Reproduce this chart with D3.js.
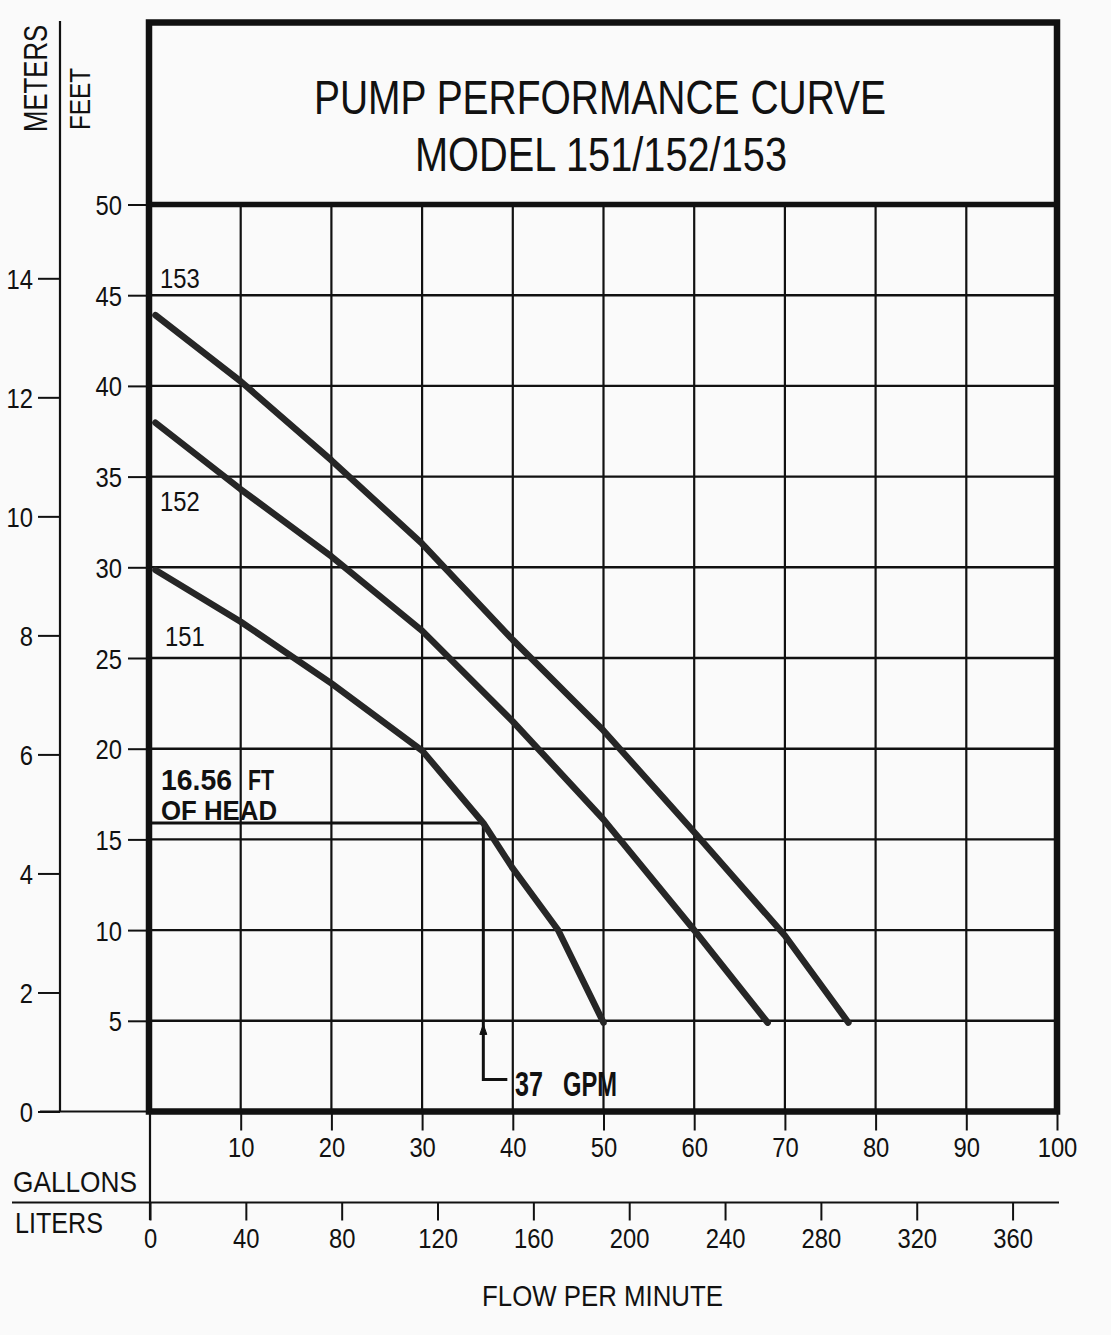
<!DOCTYPE html>
<html><head><meta charset="utf-8">
<script src="https://cdn.jsdelivr.net/npm/d3@7"></script>
<style>
html,body{margin:0;padding:0;background:#fafafa}
text{font-family:"Liberation Sans",Arial,sans-serif;fill:#111}
</style>
</head><body>
<svg id="c" width="1111" height="1335"></svg>
<script>
// ---------- data ----------
const titleLines = ["PUMP PERFORMANCE CURVE", "MODEL 151/152/153"];
const gallonTicks = [10, 20, 30, 40, 50, 60, 70, 80, 90, 100];
const literTicks = [0, 40, 80, 120, 160, 200, 240, 280, 320, 360];
const feetTicks = [5, 10, 15, 20, 25, 30, 35, 40, 45, 50];
const meterTicks = [0, 2, 4, 6, 8, 10, 12, 14];
const gridGallons = [10, 20, 30, 40, 50, 60, 70, 80, 90];
const gridFeet = [5, 10, 15, 20, 25, 30, 35, 40, 45];
const models = ["151", "152", "153"];
const gpm151 = [0.6, 10, 20, 30, 36.75, 40, 45, 50];
const ft151  = [29.85, 27.0, 23.6, 19.9, 15.9, 13.4, 10.0, 4.9];
const gpm152 = [0.6, 10, 20, 30, 40, 50, 60, 68.1];
const ft152  = [37.97, 34.3, 30.6, 26.5, 21.5, 16.1, 10.0, 4.9];
const gpm153 = [0.6, 10, 20, 30, 40, 50, 60, 70, 77];
const ft153  = [43.9, 40.25, 35.9, 31.3, 26.0, 21.0, 15.4, 9.7, 4.9];
const operatingGpm = 36.75;
const operatingHeadFt = 15.9;
const headLabel = ["16.56", "FT", "OF HEAD"];
const flowLabel = ["37", "GPM"];
const LITERS_PER_GALLON = 3.78541;
const FEET_PER_METER = 3.28084;

// ---------- scales ----------
const svg = d3.select("#c");
svg.append("rect").attr("width", 1111).attr("height", 1335).attr("fill", "#fafafa");
const x = d3.scaleLinear().domain([0, 100]).range([150, 1057]);
const xL = d3.scaleLinear().domain([0, 100 * LITERS_PER_GALLON]).range([150, 1057]);
const y = d3.scaleLinear().domain([0, 50]).range([1111.5, 204.5]);
const yM = d3.scaleLinear().domain([0, 50 / FEET_PER_METER]).range([1111.5, 204.5]);
const SX = 0.85;
const frameTop = 22.5;

// ---------- grid ----------
const grid = svg.append("g").attr("stroke", "#111");
grid.selectAll("line.v").data(gridGallons).join("line")
  .attr("x1", d => x(d)).attr("x2", d => x(d))
  .attr("y1", y(50)).attr("y2", y(0)).attr("stroke-width", 2.2);
grid.selectAll("line.h").data(gridFeet).join("line")
  .attr("x1", x(0)).attr("x2", x(100))
  .attr("y1", d => y(d)).attr("y2", d => y(d)).attr("stroke-width", 2.4);

// ---------- frame ----------
svg.append("rect").attr("x", x(0) - 1).attr("y", frameTop)
  .attr("width", x(100) - x(0) + 1).attr("height", y(0) - frameTop)
  .attr("fill", "none").attr("stroke", "#111").attr("stroke-width", 6.5);
svg.append("line").attr("x1", x(0)).attr("x2", x(100)).attr("y1", y(50)).attr("y2", y(50))
  .attr("stroke", "#111").attr("stroke-width", 5.5);

// ---------- title ----------
svg.append("text").attr("x", 314).attr("y", 114).attr("font-size", 49)
  .attr("textLength", 572).attr("lengthAdjust", "spacingAndGlyphs").text(titleLines[0]);
svg.append("text").attr("x", 415).attr("y", 170.5).attr("font-size", 49)
  .attr("textLength", 372).attr("lengthAdjust", "spacingAndGlyphs").text(titleLines[1]);

// ---------- axes ----------
function styleAxis(g, lw) {
  g.select(".domain").remove();
  g.selectAll(".tick line").attr("stroke", "#111").attr("stroke-width", lw);
  g.selectAll(".tick text").attr("font-size", 28).attr("fill", "#111")
    .attr("font-family", '"Liberation Sans",Arial,sans-serif');
}
// feet
const gF = svg.append("g").attr("transform", "translate(148,0)")
  .call(d3.axisLeft(y).tickValues(feetTicks).tickSize(20).tickFormat(d3.format("d")));
styleAxis(gF, 2);
gF.selectAll(".tick text").attr("x", -26 / SX).attr("dy", "0.36em").attr("transform", `scale(${SX},1)`);
// meters
svg.append("line").attr("x1", 60).attr("x2", 60).attr("y1", 21).attr("y2", y(0))
  .attr("stroke", "#111").attr("stroke-width", 2.2);
const gM = svg.append("g").attr("transform", "translate(60,0)")
  .call(d3.axisLeft(yM).tickValues(meterTicks).tickSize(22).tickFormat(d3.format("d")));
styleAxis(gM, 2);
gM.selectAll(".tick text").attr("x", -27 / SX).attr("dy", "0.36em").attr("transform", `scale(${SX},1)`);
svg.append("line").attr("x1", 40).attr("x2", x(0)).attr("y1", y(0)).attr("y2", y(0))
  .attr("stroke", "#111").attr("stroke-width", 2.2);
// gallons
const gG = svg.append("g").attr("transform", `translate(0,${y(0)})`)
  .call(d3.axisBottom(x).tickValues(gallonTicks).tickSize(19).tickFormat(d3.format("d")));
styleAxis(gG, 2);
gG.selectAll(".tick text").attr("y", 45.5).attr("dy", 0).attr("transform", `scale(${SX},1)`);
// liters
const sepY = 1202.5;
svg.append("line").attr("x1", 12).attr("x2", 1059).attr("y1", sepY).attr("y2", sepY)
  .attr("stroke", "#111").attr("stroke-width", 2.2);
svg.append("line").attr("x1", x(0)).attr("x2", x(0)).attr("y1", y(0)).attr("y2", 1220)
  .attr("stroke", "#111").attr("stroke-width", 2.2);
const gL = svg.append("g").attr("transform", `translate(0,${sepY})`)
  .call(d3.axisBottom(xL).tickValues(literTicks).tickSize(18).tickFormat(d3.format("d")));
styleAxis(gL, 2);
gL.selectAll(".tick text").attr("y", 45.5).attr("dy", 0).attr("transform", `scale(${SX},1)`);

// axis titles (rotated ones condensed by scale rather than textLength)
svg.append("text").attr("transform", "translate(47,132) rotate(-90) scale(0.78,1)").attr("font-size", 33)
  .text("METERS");
svg.append("text").attr("transform", "translate(90,130) rotate(-90) scale(0.81,1)").attr("font-size", 30)
  .text("FEET");
svg.append("text").attr("x", 13).attr("y", 1192).attr("font-size", 30)
  .attr("textLength", 124).attr("lengthAdjust", "spacingAndGlyphs").text("GALLONS");
svg.append("text").attr("x", 15).attr("y", 1233).attr("font-size", 30)
  .attr("textLength", 88).attr("lengthAdjust", "spacingAndGlyphs").text("LITERS");
svg.append("text").attr("x", 482).attr("y", 1306).attr("font-size", 29.5)
  .attr("textLength", 241).attr("lengthAdjust", "spacingAndGlyphs").text("FLOW PER MINUTE");

// ---------- annotation ----------
const ax = x(operatingGpm), ay = y(operatingHeadFt);
const ann = svg.append("g").attr("stroke", "#111").attr("stroke-width", 3).attr("fill", "none");
ann.append("path").attr("d", `M${x(0)},${ay} H${ax} V${y(0) - 32} H${ax + 24}`);
ann.append("path").attr("d", `M${ax},${y(4.8)} l-3.5,10 h7 z`).attr("fill", "#111").attr("stroke-width", 1);

const bold = t => t.attr("font-weight", "bold").attr("lengthAdjust", "spacingAndGlyphs");
bold(svg.append("text").attr("x", 161).attr("y", 790).attr("font-size", 29).attr("textLength", 71).text(headLabel[0]));
bold(svg.append("text").attr("x", 248).attr("y", 790).attr("font-size", 29).attr("textLength", 26).text(headLabel[1]));
bold(svg.append("text").attr("x", 161).attr("y", 820).attr("font-size", 28).attr("textLength", 116).text(headLabel[2]));
bold(svg.append("text").attr("x", 515).attr("y", 1096).attr("font-size", 35).attr("textLength", 28).text(flowLabel[0]));
bold(svg.append("text").attr("x", 563).attr("y", 1096).attr("font-size", 35).attr("textLength", 54).text(flowLabel[1]));

// ---------- curves ----------
const series = [
  {name: models[0], g: gpm151, f: ft151, lx: 1.65, ly: 25.65},
  {name: models[1], g: gpm152, f: ft152, lx: 1.1, ly: 33.1},
  {name: models[2], g: gpm153, f: ft153, lx: 1.1, ly: 45.4}
];
const line = d3.line().x(d => x(d[0])).y(d => y(d[1])).curve(d3.curveLinear);
series.forEach(s => {
  const pts = s.g.map((g, i) => [g, s.f[i]]);
  svg.append("path").attr("d", line(pts)).attr("fill", "none")
    .attr("stroke", "#262626").attr("stroke-width", 6.5)
    .attr("stroke-linecap", "round").attr("stroke-linejoin", "round");
  svg.append("text").attr("transform", `translate(${x(s.lx)},${y(s.ly)}) scale(${SX},1)`)
    .attr("font-size", 28).text(s.name);
});
</script>
</body></html>
